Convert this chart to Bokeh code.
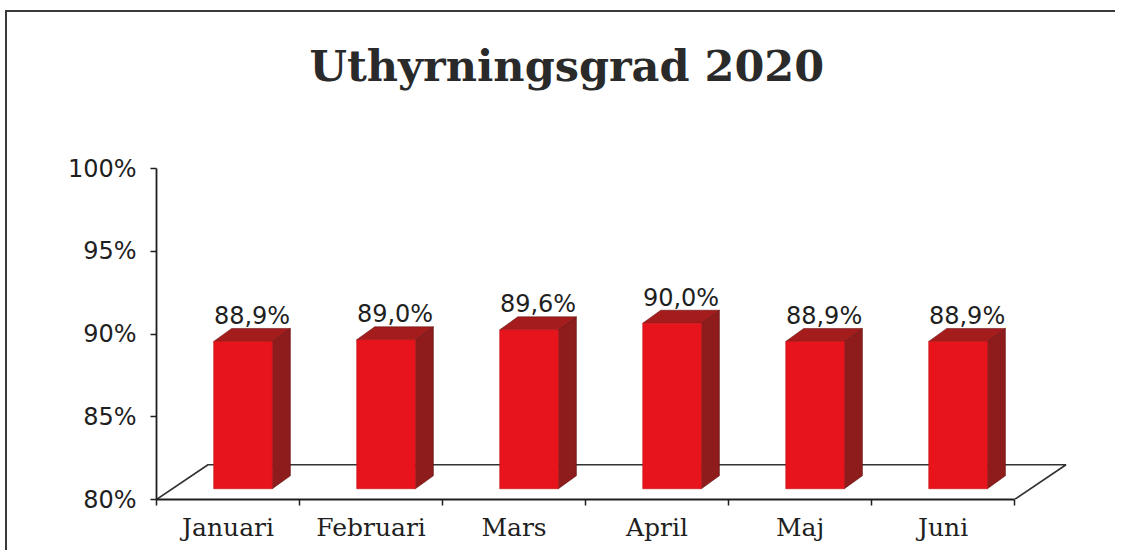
from bokeh.plotting import figure
from bokeh.models import Range1d, FixedTicker, ColumnDataSource
from bokeh.core.properties import value
from bokeh.embed import file_html
from bokeh.resources import INLINE

# ---- data ----
months = ["Januari", "Februari", "Mars", "April", "Maj", "Juni"]
occupancy = [88.9, 89.0, 89.6, 90.0, 88.9, 88.9]
value_labels = ["88,9%", "89,0%", "89,6%", "90,0%", "88,9%", "88,9%"]
y_ticks = [80, 85, 90, 95, 100]
y_tick_labels = ["80%", "85%", "90%", "95%", "100%"]
title_text = "Uthyrningsgrad 2020"

# ---- styling / 3D geometry (data units) ----
BASE = 80.0
FRONT_LIFT = 0.65      # bar front sits slightly back in the floor
BAR_L, BAR_R = 0.40, 0.81
DX, DY = 0.126, 0.785  # bar depth offset
FLOOR_DX, FLOOR_DY = 0.36, 2.1
LABEL_GAP = 0.75
INK = "#1f1f1f"

p = figure(width=1110, height=540, output_backend="svg", toolbar_location=None,
           x_range=Range1d(0, 6.594), y_range=Range1d(80, 103.565),
           min_border_left=149, min_border_right=18, min_border_top=97,
           min_border_bottom=53)
p.styles = {"border-top": "2px solid #3a3a3a", "border-left": "2px solid #3a3a3a",
            "margin-left": "5px", "margin-top": "10px"}
p.outline_line_color = None
p.grid.visible = False
p.background_fill_color = "white"
p.border_fill_color = "white"

# title
p.title.text = title_text
p.title.text_font = "DejaVu Serif"
p.title.text_font_style = "bold"
p.title.text_font_size = "43px"
p.title.text_color = "#2a2a2a"
p.title.align = "left"
p.title.offset = 153
p.title.standoff = 37

# floor outline
n = len(months)
floor_x = [0, FLOOR_DX, n + FLOOR_DX, n]
floor_y = [BASE, BASE + FLOOR_DY, BASE + FLOOR_DY, BASE]
p.line(floor_x, floor_y, line_color="#333333", line_width=1.6)

# bars
fl, fr, fb, ft = [], [], [], []
side_xs, side_ys, top_xs, top_ys = [], [], [], []
for i, v in enumerate(occupancy):
    l, r = i + BAR_L, i + BAR_R
    b, t = BASE + FRONT_LIFT, v + FRONT_LIFT
    fl.append(l); fr.append(r); fb.append(b); ft.append(t)
    side_xs.append([r, r + DX, r + DX, r])
    side_ys.append([b, b + DY, t + DY, t])
    top_xs.append([l, r, r + DX, l + DX])
    top_ys.append([t, t, t + DY, t + DY])

p.patches(side_xs, side_ys, fill_color="#8e1c1c", line_color="#5e1010", line_width=0.6)
p.patches(top_xs, top_ys, fill_color="#a51c1c", line_color="#6a1212", line_width=0.6)
p.quad(left=fl, right=fr, bottom=fb, top=ft, fill_color="#e8141b", line_color="#c01015", line_width=0.6)

# value labels
src = ColumnDataSource(dict(
    x=[i + (BAR_L + BAR_R + DX) / 2 for i in range(n)],
    y=[v + FRONT_LIFT + DY + LABEL_GAP for v in occupancy],
    t=value_labels))
p.text(x="x", y="y", text="t", source=src, text_align="center", text_baseline="alphabetic",
       text_font=value("DejaVu Sans"), text_font_size="24px", text_color=INK)

# x axis: category labels at slot centres, tick marks at slot boundaries
xa = p.xaxis[0]
xa.ticker = FixedTicker(ticks=[i + 0.5 for i in range(n)], minor_ticks=list(range(n + 1)))
xa.major_label_overrides = {i + 0.5: m for i, m in enumerate(months)}
xa.bounds = (0, n)
xa.axis_line_color = INK
xa.axis_line_width = 1.8
xa.major_tick_line_color = None
xa.minor_tick_line_color = INK
xa.minor_tick_line_width = 1.5
xa.minor_tick_out = 6
xa.minor_tick_in = 0
xa.major_label_standoff = 7
xa.major_label_text_font = "DejaVu Serif"
xa.major_label_text_font_size = "25px"
xa.major_label_text_color = INK

ya = p.yaxis[0]
ya.ticker = FixedTicker(ticks=y_ticks, minor_ticks=[])
ya.major_label_overrides = {t: s for t, s in zip(y_ticks, y_tick_labels)}
ya.bounds = (y_ticks[0], y_ticks[-1])
ya.axis_line_color = INK
ya.axis_line_width = 1.8
ya.major_tick_line_color = INK
ya.major_tick_line_width = 1.5
ya.major_tick_out = 6
ya.major_tick_in = 0
ya.minor_tick_line_color = None
ya.major_label_standoff = 14
ya.major_label_text_font = "DejaVu Sans"
ya.major_label_text_font_size = "24px"
ya.major_label_text_color = INK

open("out.html", "w").write(file_html(p, INLINE))
